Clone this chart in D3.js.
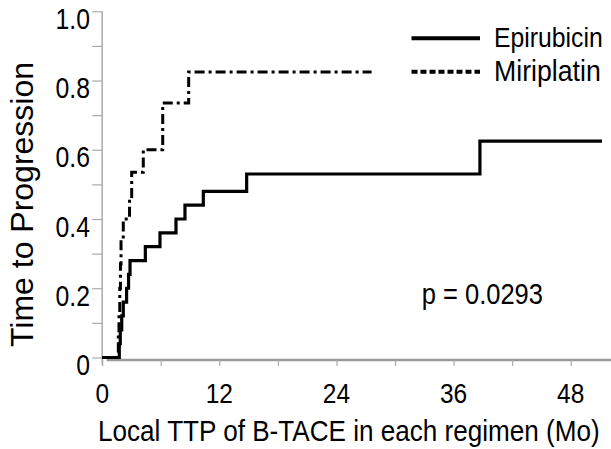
<!DOCTYPE html>
<html><head><meta charset="utf-8">
<script src="https://cdn.jsdelivr.net/npm/d3@7"></script>
<style>body{margin:0;background:#fff}text{font-family:"Liberation Sans",Arial,sans-serif;fill:#000}</style>
</head><body><svg id="c" width="611" height="449"></svg>
<script>
// Data
const seriesNames = ["Epirubicin", "Miriplatin"];
const epiTimes  = [0, 1.75, 1.85, 2.0, 2.16, 2.5, 2.7, 2.85, 4.42, 5.92, 7.56, 8.48, 10.36, 14.8, 38.7, 51.2];
const epiValues = [0, 0.04, 0.08, 0.12, 0.16, 0.20, 0.24, 0.28, 0.32, 0.36, 0.40, 0.44, 0.48, 0.53, 0.625, 0.625];
const mirTimes  = [0, 1.65, 1.72, 1.8, 1.87, 1.93, 2.16, 2.8, 3.02, 4.21, 6.2, 8.86, 27.6];
const mirValues = [0, 0.07, 0.13, 0.20, 0.27, 0.34, 0.40, 0.46, 0.535, 0.60, 0.735, 0.825, 0.825];
const xTickLabels = [0, 12, 24, 36, 48];
const xMinorTicks = [0, 6, 12, 18, 24, 30, 36, 42, 48];
const yTickLabels = [0, 0.2, 0.4, 0.6, 0.8, 1.0];
const yMinorTicks = [0, 0.1, 0.2, 0.3, 0.4, 0.5, 0.6, 0.7, 0.8, 0.9, 1.0];
const pText = "p = 0.0293";
const xTitle = "Local TTP of B-TACE in each regimen (Mo)";
const yTitle = "Time to Progression";

const svg = d3.select("#c");
const x = d3.scaleLinear().domain([0, 52.2]).range([102.2, 611.7]);
const y = d3.scaleLinear().domain([0, 1]).range([357.5, 11.3]);

// text squeezed horizontally by factor f, positioned at (px,py)
function sq(parent, px, py, f, size, str, anchor) {
  return parent.append("text")
    .attr("transform", `translate(${px},${py}) scale(${f},1)`)
    .attr("font-size", size).attr("text-anchor", anchor || "start").text(str);
}

// Y axis
const yAx = svg.append("g").attr("transform", `translate(${x(0)},0)`)
  .call(d3.axisLeft(y).tickValues(yMinorTicks).tickSize(10).tickFormat(""));
yAx.select(".domain").attr("stroke", "#aaa").attr("stroke-width", 1.5).attr("d", `M0,${y(1)}H0V${y(0)+7}`);
yAx.selectAll(".tick line").attr("stroke", "#aaa").attr("stroke-width", 1.2);
const yl = svg.append("g");
yTickLabels.forEach(d => sq(yl, 90, y(d) + 17.5, 0.84, 29.5, d === 0 ? "0" : d3.format(".1f")(d), "end"));

// X axis
const xAx = svg.append("g").attr("transform", `translate(0,${y(0)+2.5})`)
  .call(d3.axisBottom(x).tickValues(xMinorTicks).tickSize(6).tickFormat(""));
xAx.select(".domain").attr("stroke", "#9a9a9a").attr("stroke-width", 2.5).attr("d", `M${x(0)+4.5},0H611`);
xAx.selectAll(".tick line").attr("stroke", "#aaa").attr("stroke-width", 1.2);
const xl = svg.append("g");
xTickLabels.forEach(d => sq(xl, x(d), 403, 0.86, 28.5, String(d), "middle"));

// Lines
const line = d3.line().x(d => x(d[0])).y(d => y(d[1])).curve(d3.curveStepAfter);
const epi = epiTimes.map((t, i) => [t, epiValues[i]]);
const mir = mirTimes.map((t, i) => [t, mirValues[i]]);
svg.append("path").datum(epi).attr("d", line).attr("fill", "none").attr("stroke", "#000").attr("stroke-width", 3.2);
svg.append("path").datum(mir).attr("d", line).attr("fill", "none").attr("stroke", "#000").attr("stroke-width", 3)
  .attr("stroke-dasharray", "10,4,3,4");

// Legend
const leg = svg.append("g");
leg.append("line").attr("x1", 411.5).attr("x2", 480).attr("y1", 38.3).attr("y2", 38.3).attr("stroke", "#000").attr("stroke-width", 4);
leg.append("line").attr("x1", 411.5).attr("x2", 480).attr("y1", 71.7).attr("y2", 71.7).attr("stroke", "#000").attr("stroke-width", 4).attr("stroke-dasharray", "6,3");
sq(leg, 494, 46.7, 0.9, 27.5, seriesNames[0]);
sq(leg, 494, 81, 0.92, 29, seriesNames[1]);

// p value
sq(svg, 421.7, 304, 0.88, 29, pText);

// Titles
sq(svg, 98, 440.5, 0.9, 29, xTitle);
svg.append("text").attr("transform", "translate(33,204.5) rotate(-90)").attr("text-anchor", "middle")
  .attr("font-size", 32).text(yTitle);
</script></body></html>
